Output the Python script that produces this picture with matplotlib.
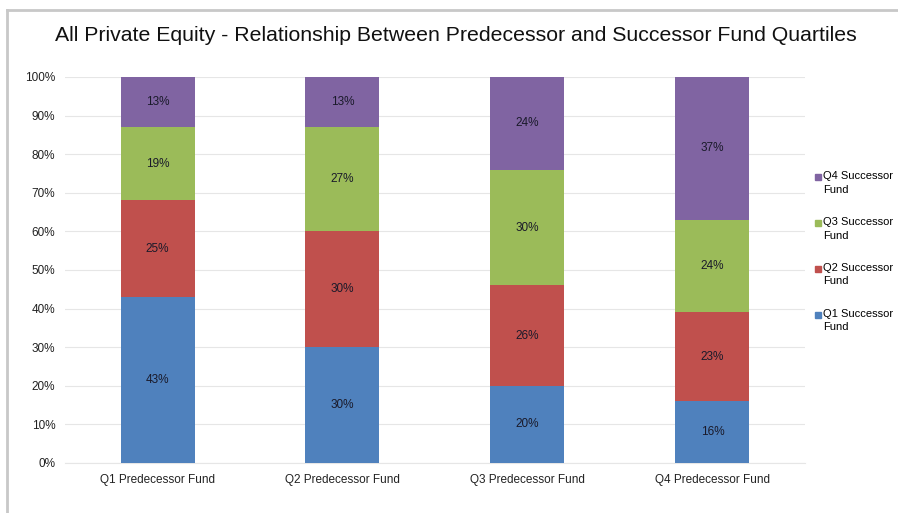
import matplotlib
matplotlib.use("Agg")
import matplotlib.pyplot as plt
from matplotlib.lines import Line2D
from matplotlib.legend_handler import HandlerLine2D
from matplotlib.ticker import PercentFormatter

plt.rcParams['font.family'] = ['Liberation Sans', 'DejaVu Sans']

categorie = ["Q1 Predecessor Fund", "Q2 Predecessor Fund",
             "Q3 Predecessor Fund", "Q4 Predecessor Fund"]
serie = ["Q1 Successor Fund", "Q2 Successor Fund",
         "Q3 Successor Fund", "Q4 Successor Fund"]
q1 = [43, 30, 20, 16]
q2 = [25, 30, 26, 23]
q3 = [19, 27, 30, 24]
q4 = [13, 13, 24, 37]
colori = ["#4F81BD", "#C0504D", "#9BBB59", "#8064A2"]


class MarcatoreAlto(HandlerLine2D):
    # porta il quadratino all'altezza della prima riga dell'etichetta
    def create_artists(self, legend, orig_handle, xdescent, ydescent,
                       width, height, fontsize, trans):
        return super().create_artists(legend, orig_handle, xdescent,
                                      ydescent - 8.5, width, height,
                                      fontsize, trans)


fig = plt.figure(figsize=(8.98, 5.13), dpi=100)
ax = fig.add_axes([0.0724, 0.0975, 0.824, 0.7525])

x = range(len(categorie))
base = [0] * len(categorie)
for valori, colore in zip([q1, q2, q3, q4], colori):
    ax.bar(x, valori, width=0.4, bottom=base, color=colore, zorder=3)
    for i, v in enumerate(valori):
        ax.text(i, base[i] + v / 2, f"{v}%", ha="center", va="center",
                fontsize=8.5, color="#1a1a2a", zorder=4)
    base = [b + v for b, v in zip(base, valori)]

ax.set_xlim(-0.5, 3.5)
ax.set_ylim(0, 100)
ax.set_yticks(range(0, 101, 10))
ax.yaxis.set_major_formatter(PercentFormatter(decimals=0))
ax.set_xticks(list(x))
ax.set_xticklabels(categorie)
ax.tick_params(length=0, labelsize=8.5, colors="#222222")
ax.tick_params(axis="y", pad=7)
ax.tick_params(axis="x", pad=8)
ax.grid(axis="y", color="#e6e6e6", linewidth=0.8, zorder=0)
for s in ["top", "right", "left"]:
    ax.spines[s].set_visible(False)
ax.spines["bottom"].set_color("#e6e6e6")

# legenda a destra, ordine inverso come nelle barre
maniglie = [Line2D([], [], marker="s", linestyle="", markersize=4,
                   color=c) for c in colori[::-1]]
etichette = [s.replace("Successor ", "Successor\n") for s in serie[::-1]]
leg = fig.legend(maniglie, etichette, loc="upper left",
                 bbox_to_anchor=(0.901, 0.675), frameon=False, fontsize=8,
                 handletextpad=0.05, labelspacing=2.0, handlelength=0.8,
                 borderaxespad=0,
                 handler_map={Line2D: MarcatoreAlto()})
for t in leg.get_texts():
    t.set_linespacing(1.45)

fig.text(0.508, 0.93, "All Private Equity - Relationship Between Predecessor "
         "and Successor Fund Quartiles", ha="center", va="center",
         fontsize=15.3, color="#111111")

# cornice grigia in alto e a sinistra
fig.add_artist(Line2D([0.008, 1.0], [0.981, 0.981], color="#c8c8c8",
                      linewidth=2, transform=fig.transFigure))
fig.add_artist(Line2D([0.008, 0.008], [0.0, 0.981], color="#c8c8c8",
                      linewidth=2, transform=fig.transFigure))

fig.savefig("out.png", dpi=100)
